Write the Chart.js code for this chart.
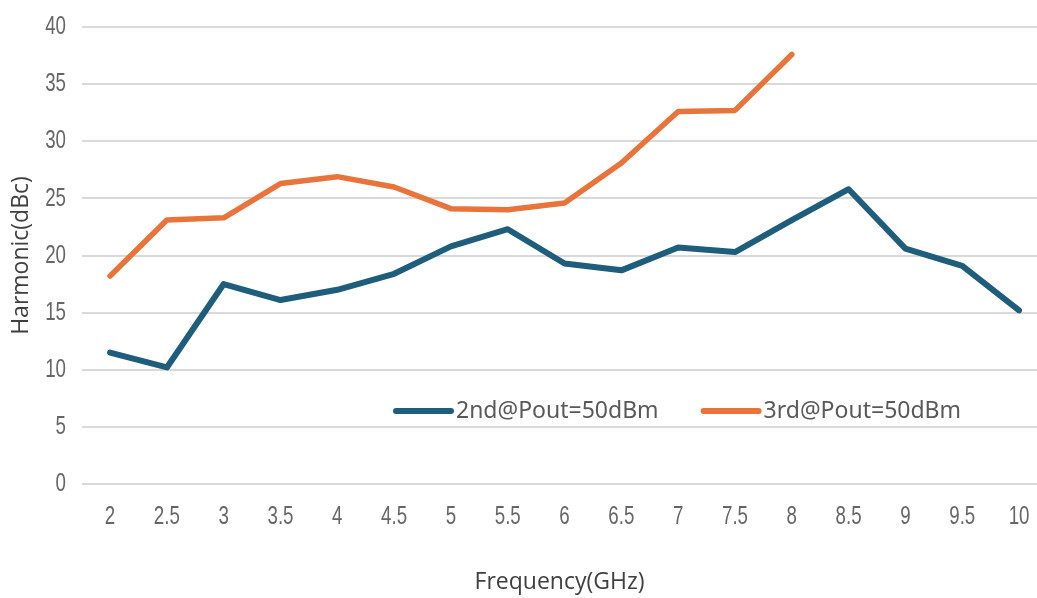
<!DOCTYPE html>
<html>
<head>
<meta charset="utf-8">
<script src="https://cdn.jsdelivr.net/npm/chart.js@4/dist/chart.umd.min.js"></script>
<style>
  html, body { margin: 0; padding: 0; background: #ffffff; }
  #wrap { width: 1037px; height: 598px; position: relative; }
</style>
</head>
<body>
<div id="wrap"><canvas id="harmonicChart"></canvas></div>
<script>
// frequency points (GHz)
const frequencies = [2, 2.5, 3, 3.5, 4, 4.5, 5, 5.5, 6, 6.5, 7, 7.5, 8, 8.5, 9, 9.5, 10];
// harmonic level (dBc)
const second = [11.5, 10.2, 17.5, 16.1, 17.0, 18.4, 20.8, 22.3, 19.3, 18.7, 20.7, 20.3, 23.1, 25.8, 20.6, 19.1, 15.2];
const third = [18.2, 23.1, 23.3, 26.3, 26.9, 26.0, 24.1, 24.0, 24.6, 28.1, 32.6, 32.7, 37.6];
const yTicks = [0, 5, 10, 15, 20, 25, 30, 35, 40];

const tickFont = "26px 'Liberation Sans', sans-serif";
const titleFont = { family: "'Open Sans', sans-serif", size: 23 };
const legendFont = "23px 'Noto Sans', sans-serif";

// the original tick labels use a tall, narrow face, so draw them squeezed
const narrowTicks = {
    id: 'narrowTicks',
    afterDraw(chart) {
        const { ctx, chartArea, scales } = chart;
        ctx.save();
        ctx.font = tickFont;
        ctx.fillStyle = '#666666';
        ctx.textBaseline = 'middle';
        scales.y.ticks.forEach(t => {
            const y = scales.y.getPixelForValue(t.value);
            ctx.save();
            ctx.translate(chartArea.left - 16, y);
            ctx.scale(0.72, 1);
            ctx.textAlign = 'right';
            ctx.fillText(String(t.value), 0, 0);
            ctx.restore();
        });
        scales.x.ticks.forEach(t => {
            const x = scales.x.getPixelForValue(t.value);
            ctx.save();
            ctx.translate(x, chartArea.bottom + 33);
            ctx.scale(0.72, 1);
            ctx.textAlign = 'center';
            ctx.fillText(String(t.value), 0, 0);
            ctx.restore();
        });
        ctx.restore();
    }
};

// legend drawn inside the plot, like the original
const insideLegend = {
    id: 'insideLegend',
    afterDatasetsDraw(chart) {
        const { ctx, chartArea } = chart;
        const y = chartArea.top + 384;
        let x = chartArea.left + 311;
        ctx.save();
        ctx.font = legendFont;
        ctx.textBaseline = 'middle';
        ctx.textAlign = 'left';
        chart.data.datasets.forEach(ds => {
            ctx.strokeStyle = ds.borderColor;
            ctx.lineWidth = 6;
            ctx.lineCap = 'round';
            ctx.beginPath();
            ctx.moveTo(x + 3, y);
            ctx.lineTo(x + 58, y);
            ctx.stroke();
            ctx.fillStyle = '#595959';
            ctx.fillText(ds.label, x + 63, y);
            x += 63 + ctx.measureText(ds.label).width + 42;
        });
        ctx.restore();
    }
};

const ctx = document.getElementById('harmonicChart').getContext('2d');
const harmonicChart = new Chart(ctx, {
    type: 'line',
    data: {
        datasets: [{
            label: '2nd@Pout=50dBm',
            data: second.map((v, i) => ({ x: frequencies[i], y: v })),
            borderColor: '#1f5d7c',
            borderWidth: 6,
            pointRadius: 0,
            borderJoinStyle: 'round',
            borderCapStyle: 'round',
            tension: 0
        }, {
            label: '3rd@Pout=50dBm',
            data: third.map((v, i) => ({ x: frequencies[i], y: v })),
            borderColor: '#e8743b',
            borderWidth: 5.5,
            pointRadius: 0,
            borderJoinStyle: 'round',
            borderCapStyle: 'round',
            tension: 0
        }]
    },
    options: {
        responsive: true,
        maintainAspectRatio: false,
        animation: false,
        layout: { padding: { top: 27, right: 0, bottom: 0, left: 0 } },
        plugins: {
            legend: { display: false },
            tooltip: { enabled: false }
        },
        scales: {
            x: {
                type: 'linear',
                min: 1.753,
                max: 10.158,
                afterBuildTicks: scale => { scale.ticks = frequencies.map(v => ({ value: v })); },
                afterFit: scale => { scale.height = 114; },
                grid: { display: false },
                border: { display: false },
                ticks: { display: false },
                title: {
                    display: true,
                    text: 'Frequency(GHz)',
                    color: '#404040',
                    font: titleFont,
                    padding: { top: 2, bottom: 2 }
                }
            },
            y: {
                min: 0,
                max: 40,
                afterBuildTicks: scale => { scale.ticks = yTicks.map(v => ({ value: v })); },
                afterFit: scale => { scale.width = 82; },
                grid: { color: '#d9d9d9', lineWidth: 2, drawTicks: false },
                border: { display: false },
                ticks: { display: false },
                title: {
                    display: true,
                    text: 'Harmonic(dBc)',
                    color: '#404040',
                    font: titleFont,
                    padding: { top: 8, bottom: 2 }
                }
            }
        }
    },
    plugins: [narrowTicks, insideLegend]
});
</script>
</body>
</html>
